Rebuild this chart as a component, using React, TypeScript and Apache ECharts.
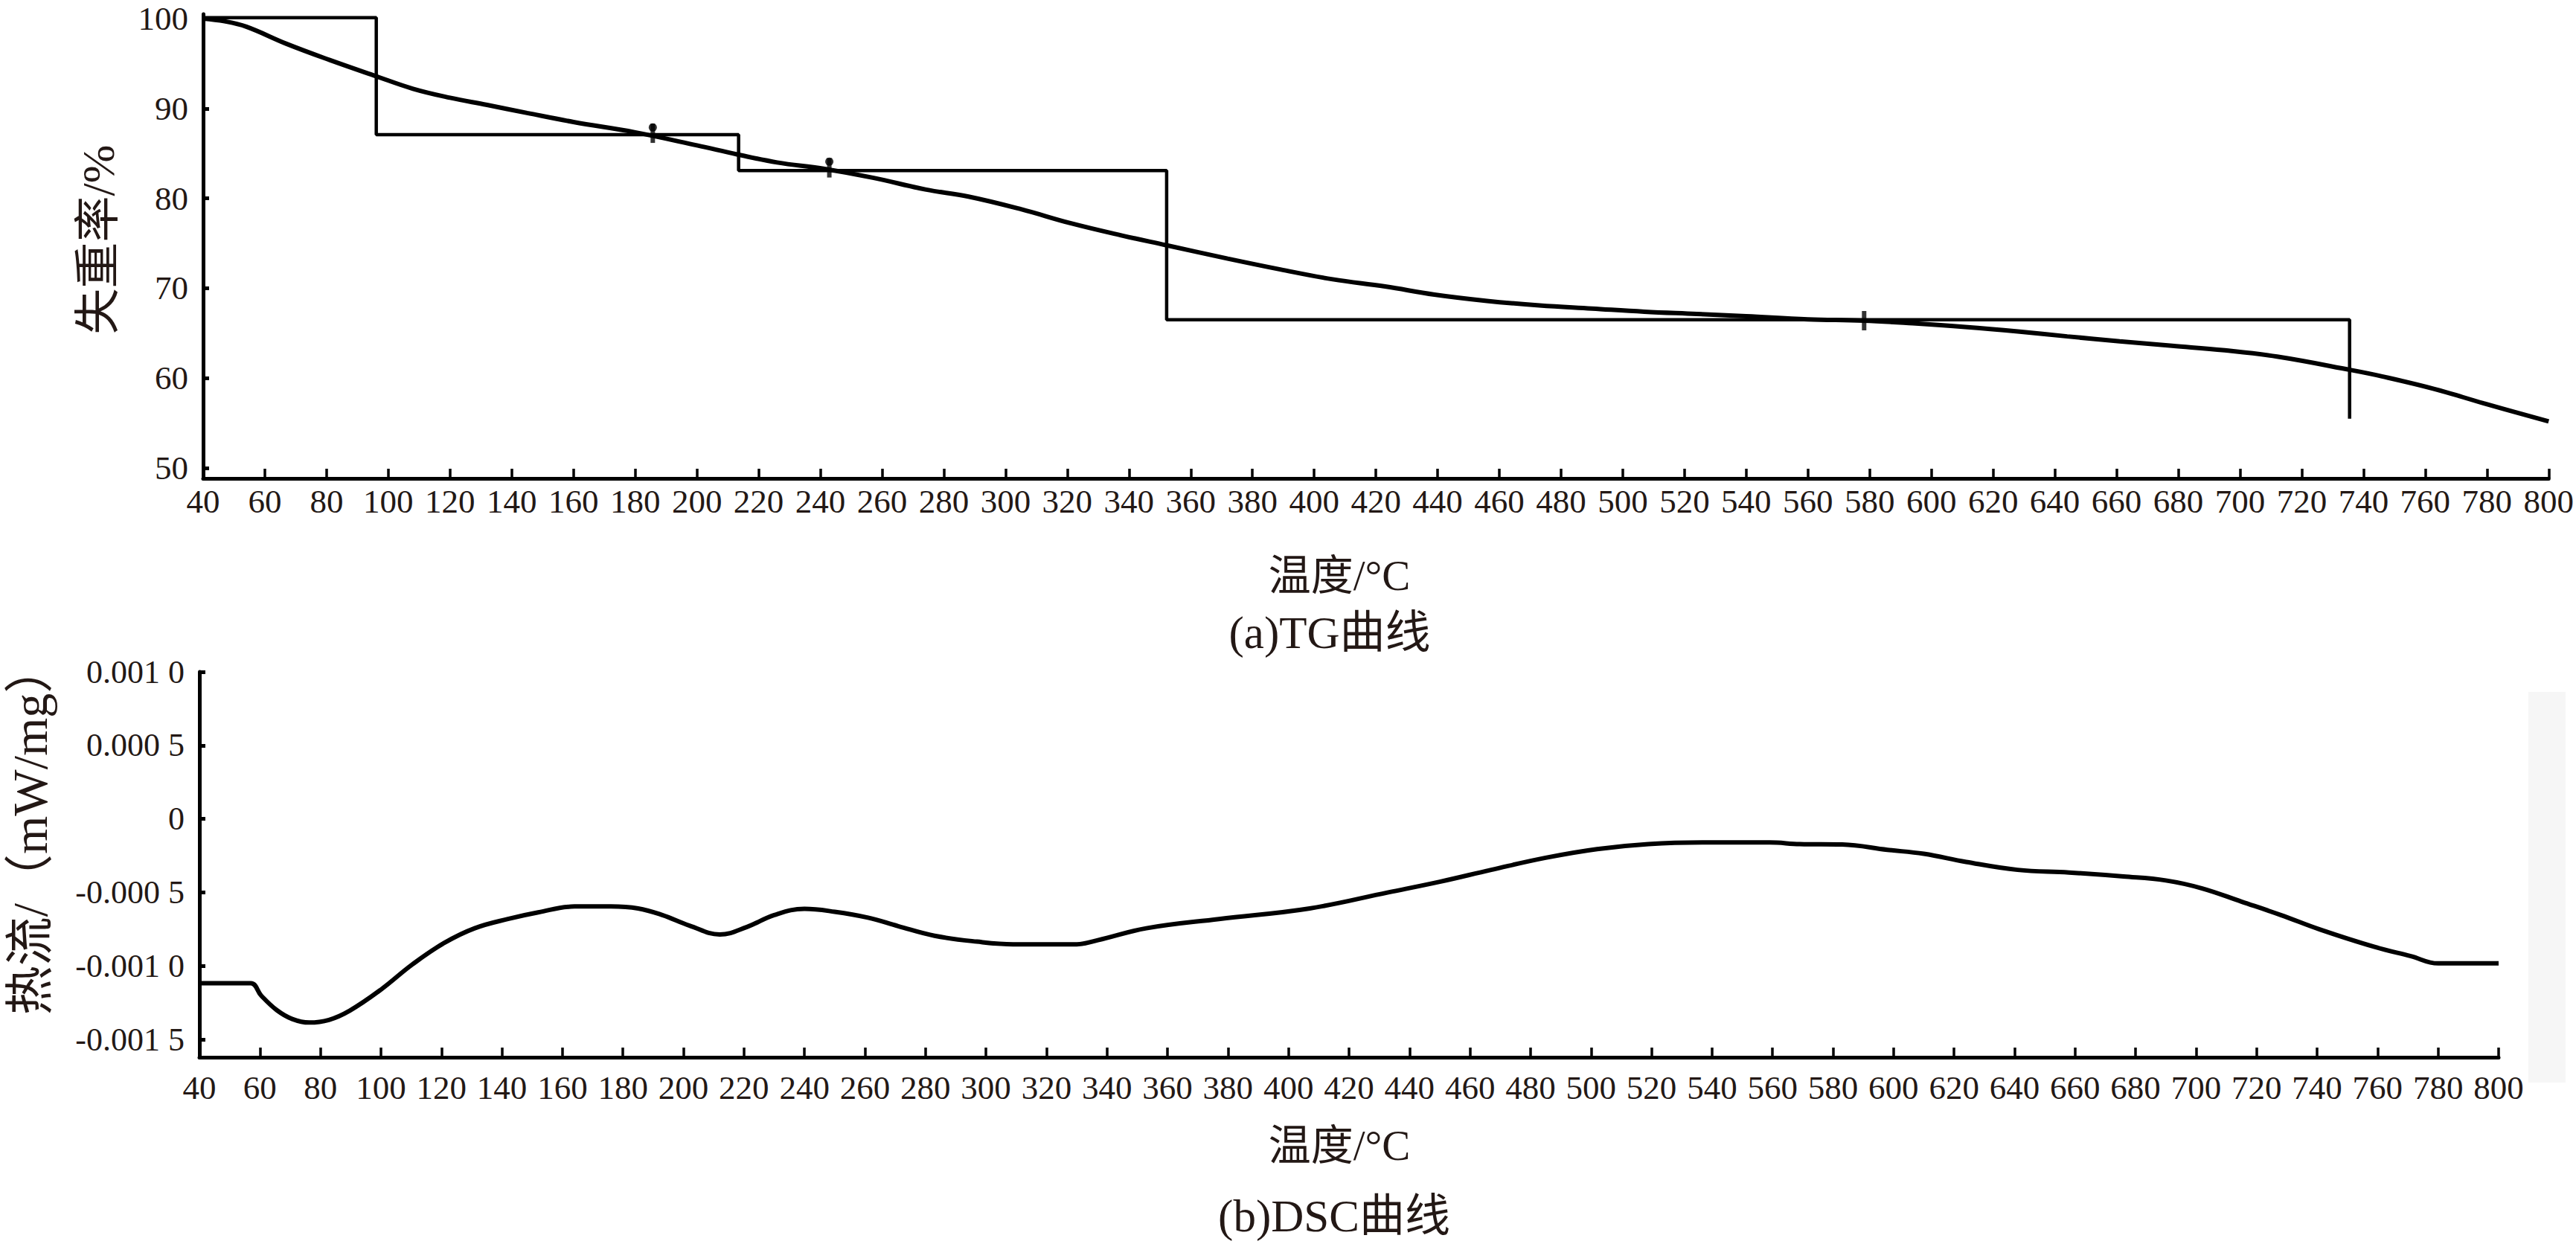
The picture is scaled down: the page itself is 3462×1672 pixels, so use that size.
import React, { useEffect, useRef } from "react";
import * as echarts from "echarts";

// ---- TG curve (temperature °C, mass %) ----
const tgTemp = [40, 47, 54, 67, 81, 96, 108, 120, 132, 145, 160, 180, 200, 213, 226, 241, 257, 274, 288, 305, 321, 338, 352, 372, 389, 406, 423, 439, 456, 473, 490, 507, 524, 540, 560, 578, 594, 611, 628, 644, 661, 678, 695, 712, 736, 746, 763, 779, 800];
const tgValue = [100.0, 99.7, 99.1, 97.2, 95.4, 93.6, 92.2, 91.2, 90.4, 89.5, 88.5, 87.35, 85.9, 84.9, 84.0, 83.3, 82.3, 81.0, 80.2, 78.8, 77.25, 75.85, 74.8, 73.3, 72.1, 71.0, 70.2, 69.3, 68.6, 68.1, 67.75, 67.4, 67.15, 66.9, 66.55, 66.4, 66.1, 65.7, 65.2, 64.65, 64.1, 63.6, 63.1, 62.4, 60.9, 60.2, 58.8, 57.2, 55.2];

// ---- TG step (stage) line ----
const stepTemp = [40, 96.1, 96.1, 213.5, 213.5, 352.2, 352.2, 735.5, 735.5];
const stepValue = [100.1, 100.1, 87.1, 87.1, 83.1, 83.1, 66.5, 66.5, 55.5];

// ---- small markers on the TG plot ----
const markTemp = [185.7, 242.9, 578.2];
const markValue = [87.25, 83.4, 66.4];
const dotTemp = [185.7, 242.9];
const dotValue = [87.9, 84.1];

// ---- DSC curve (temperature °C, heat flow 1e-4 mW/mg) ----
const dscTemp = [40, 57, 60.4, 65.6, 70.7, 76.3, 82.8, 89.7, 100, 110.5, 121, 131, 142, 152, 164, 176, 185, 193, 202, 212, 221, 230, 240, 250, 261, 271, 283, 297, 309, 330, 337, 353, 377, 407, 433, 450, 467, 485, 502, 519, 537, 559, 569, 583, 598, 610, 624, 641, 658, 676, 690, 702, 715, 728, 741, 759, 771, 780, 800];
const dscValueE4 = [-11.17, -11.17, -12.0, -13.0, -13.6, -13.84, -13.66, -13.03, -11.6, -9.87, -8.42, -7.43, -6.8, -6.35, -5.95, -5.95, -6.08, -6.53, -7.25, -7.85, -7.34, -6.53, -6.11, -6.31, -6.71, -7.29, -7.94, -8.34, -8.52, -8.52, -8.24, -7.43, -6.8, -6.08, -4.99, -4.27, -3.46, -2.64, -2.05, -1.71, -1.6, -1.6, -1.71, -1.74, -2.1, -2.37, -2.92, -3.46, -3.64, -3.91, -4.18, -4.72, -5.62, -6.53, -7.52, -8.7, -9.33, -9.82, -9.82];

// ---- tick labels ----
const tgTicks = [50, 60, 70, 80, 90, 100];
const dscTicks = [-0.0015, -0.001, -0.0005, 0, 0.0005, 0.001];
const dscTickLabels = ["-0.001 5", "-0.001 0", "-0.000 5", "0", "0.000 5", "0.001 0"];

const SERIF = "'Liberation Serif', 'Noto Sans CJK SC', serif";
const TEXT = "#231815";

function pairs(xs: number[], ys: number[], k = 1) {
  return xs.map((x, i) => [x, ys[i] * k]);
}

export default function App() {
  const ref = useRef<HTMLDivElement>(null);
  useEffect(() => {
    if (!ref.current) return;
    const chart = echarts.init(ref.current, null, { renderer: "svg" });
    const axisLine = { show: true, onZero: false, lineStyle: { color: "#000", width: 5 } };
    const xAxisCommon = {
      type: "value",
      min: 40,
      max: 800,
      interval: 20,
      axisLine,
      axisTick: { show: true, inside: true, length: 13, lineStyle: { color: "#000", width: 3.5 } },
      axisLabel: { fontSize: 45, fontFamily: SERIF, color: TEXT, margin: 8 },
      splitLine: { show: false },
    };
    chart.setOption({
      animation: false,
      backgroundColor: "#ffffff",
      grid: [
        { left: 273, right: 33, top: 19, bottom: 1029 },
        { left: 268, right: 104, top: 903, bottom: 251 },
      ],
      xAxis: [
        { ...xAxisCommon, gridIndex: 0 },
        { ...xAxisCommon, gridIndex: 1, axisLabel: { ...xAxisCommon.axisLabel, margin: 18 } },
      ],
      yAxis: [
        {
          gridIndex: 0,
          type: "value",
          min: 48.85,
          max: 100.5,
          axisLine,
          axisTick: { show: true, inside: true, length: 8, customValues: tgTicks, lineStyle: { color: "#000", width: 5 } },
          axisLabel: { customValues: tgTicks, fontSize: 45, lineHeight: 30, fontFamily: SERIF, color: TEXT, margin: 20 },
          splitLine: { show: false },
        },
        {
          gridIndex: 1,
          type: "value",
          min: -0.00162,
          max: 0.001,
          axisLine,
          axisTick: { show: true, inside: true, length: 8, customValues: dscTicks, lineStyle: { color: "#000", width: 5 } },
          axisLabel: {
            customValues: dscTicks,
            fontSize: 44,
            fontFamily: SERIF,
            color: TEXT,
            margin: 20,
            formatter: (v: number) => {
              let best = 0;
              dscTicks.forEach((t, i) => {
                if (Math.abs(t - v) < Math.abs(dscTicks[best] - v)) best = i;
              });
              return dscTickLabels[best];
            },
          },
          splitLine: { show: false },
        },
      ],
      graphic: [
        { type: "rect", z: -10, shape: { x: 3398, y: 930, width: 50, height: 525 }, style: { fill: "#f6f6f6" } },
        { type: "text", x: 132, y: 322, rotation: Math.PI / 2, style: { text: "失重率/%", fontSize: 62, fontFamily: SERIF, fill: TEXT, align: "center", verticalAlign: "middle" } },
        { type: "text", x: 40, y: 1115, rotation: Math.PI / 2, style: { text: "热流/（mW/mg）", fontSize: 66, fontFamily: SERIF, fill: TEXT, align: "center", verticalAlign: "middle" } },
        { type: "text", x: 1800, y: 773, style: { text: "温度/°C", fontSize: 57, fontFamily: SERIF, fill: TEXT, align: "center", verticalAlign: "middle" } },
        { type: "text", x: 1787, y: 850, style: { text: "(a)TG曲线", fontSize: 61, fontFamily: SERIF, fill: TEXT, align: "center", verticalAlign: "middle" } },
        { type: "text", x: 1800, y: 1539, style: { text: "温度/°C", fontSize: 57, fontFamily: SERIF, fill: TEXT, align: "center", verticalAlign: "middle" } },
        { type: "text", x: 1793, y: 1634, style: { text: "(b)DSC曲线", fontSize: 61, fontFamily: SERIF, fill: TEXT, align: "center", verticalAlign: "middle" } },
      ],
      series: [
        {
          type: "line",
          xAxisIndex: 0,
          yAxisIndex: 0,
          data: pairs(tgTemp, tgValue),
          smooth: 0.4,
          showSymbol: false,
          lineStyle: { color: "#000", width: 6 },
        },
        {
          type: "line",
          xAxisIndex: 0,
          yAxisIndex: 0,
          data: pairs(stepTemp, stepValue),
          showSymbol: false,
          lineStyle: { color: "#000", width: 4.5 },
        },
        {
          type: "scatter",
          xAxisIndex: 0,
          yAxisIndex: 0,
          data: pairs(markTemp, markValue),
          symbol: "rect",
          symbolSize: [6, 26],
          itemStyle: { color: "#000" },
        },
        {
          type: "scatter",
          xAxisIndex: 0,
          yAxisIndex: 0,
          data: pairs(dotTemp, dotValue),
          symbol: "circle",
          symbolSize: 11,
          itemStyle: { color: "#000" },
        },
        {
          type: "line",
          xAxisIndex: 1,
          yAxisIndex: 1,
          data: pairs(dscTemp, dscValueE4, 1e-4),
          smooth: 0.4,
          showSymbol: false,
          lineStyle: { color: "#000", width: 6 },
        },
      ],
    });
    return () => chart.dispose();
  }, []);
  return <div ref={ref} style={{ position: "absolute", left: 0, top: 0, width: 3462, height: 1672 }} />;
}
